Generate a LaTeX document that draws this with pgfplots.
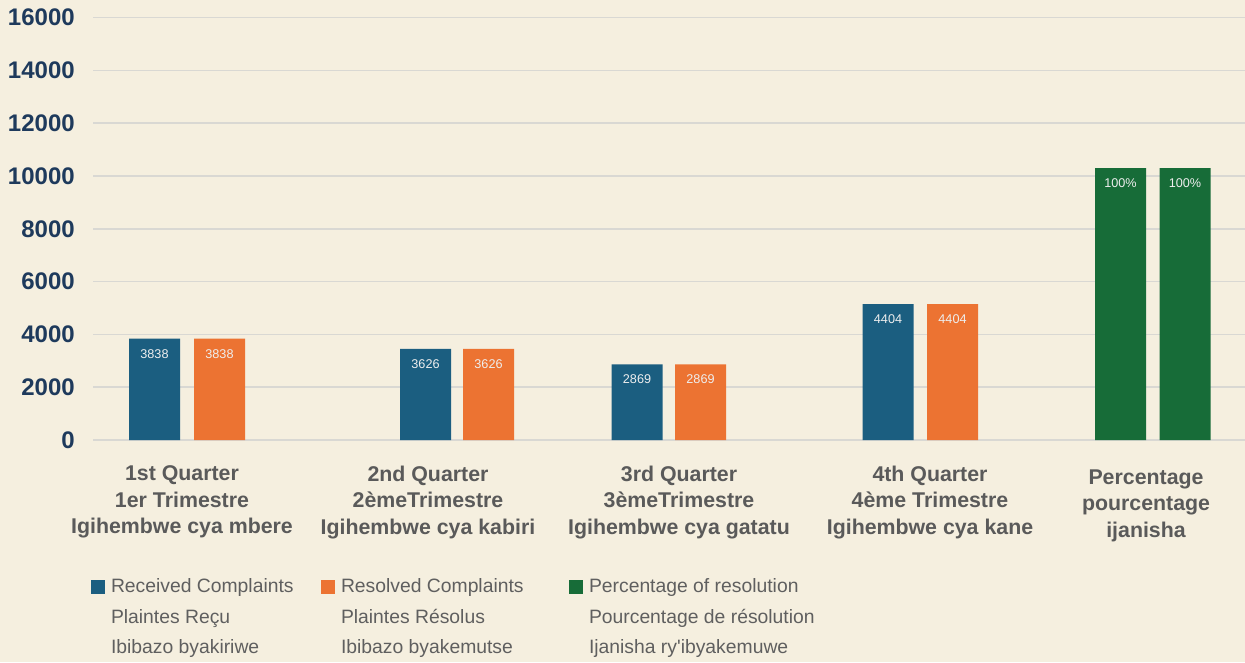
\documentclass[border=0pt]{standalone}
\usepackage{pgfplots}
\pgfplotsset{compat=1.18}
\usepackage{fontspec}
\setmainfont{Liberation Sans}
\definecolor{bg}{HTML}{F5EFDF}
\definecolor{cblue}{HTML}{1B5E80}
\definecolor{corange}{HTML}{EC7332}
\definecolor{cgreen}{HTML}{176C38}
\definecolor{gridc}{HTML}{D9D8D3}
\definecolor{ticknavy}{HTML}{1E3A5C}
\definecolor{labgray}{HTML}{5A5A5A}
\definecolor{leggray}{HTML}{5F5F5F}
\definecolor{barlab}{HTML}{EEEEEE}
\pgfplotsset{
  mybar/.style={ybar, bar width=51, bar shift=0pt, draw=none,
    nodes near coords, point meta=explicit symbolic,
    every node near coord/.append style={inner sep=0pt, yshift=-15pt,
      font=\fontsize{9.5}{9.5}\selectfont, text=barlab},
    legend image code/.code={\fill[##1] (0pt,-0.75pt) rectangle (10.5pt,9.75pt);}},
}
\begin{document}
\begin{tikzpicture}
\fill[bg] (0,0) rectangle (933.75pt,496.5pt);
\begin{axis}[
  at={(69.75pt,166.5pt)}, anchor=south west,
  scale only axis, width=864pt, height=316.8pt,
  xmin=93, xmax=1245, ymin=0, ymax=16000,
  axis line style={draw=none},
  major tick length=0pt,
  ytick={0,2000,...,16000},
  scaled y ticks=false,
  ymajorgrids, grid style={gridc, line width=1.3pt},
  /pgf/number format/.cd, fixed, 1000 sep={}, assume math mode=true, /pgfplots/.cd,
  yticklabel style={anchor=east, inner sep=0pt, xshift=-13.5pt,
    font=\bfseries\fontsize{18}{18}\selectfont, text=ticknavy},
  xtick={182,428,679,930,1146},
  xticklabels={{1st Quarter\\1er Trimestre\\Igihembwe cya mbere},
               {2nd Quarter\\2èmeTrimestre\\Igihembwe cya kabiri},
               {3rd Quarter\\3èmeTrimestre\\Igihembwe cya gatatu},
               {4th Quarter\\4ème Trimestre\\Igihembwe cya kane},
               {\rule{0pt}{14pt}Percentage\\pourcentage\\ijanisha}},
  xticklabel style={anchor=north, inner sep=0pt, yshift=-19pt, align=center,
    font=\bfseries\fontsize{16}{19.9}\selectfont, text=labgray},
  legend columns=3,
  legend style={draw=none, fill=none, inner sep=0pt, outer sep=0pt,
    at={(0,0)}, anchor=north west, xshift=-1.5pt, yshift=-104pt,
    nodes={inner sep=0pt, text=leggray, font=\fontsize{14.5}{22.9}\selectfont},
    cells={anchor=base west}, column sep=0pt,
    /tikz/every odd column/.append style={column sep=4.5pt}},
]
\addplot[mybar, fill=cblue] coordinates {
  (154.5,3838) [3838]
  (425.5,3450) [3626]
  (637,2869) [2869]
  (888,5150) [4404]
};
\addlegendentry{\parbox[t]{157.5pt}{Received Complaints\\Plaintes Reçu\\Ibibazo byakiriwe}}
\addplot[mybar, fill=corange] coordinates {
  (219.5,3838) [3838]
  (488.5,3450) [3626]
  (700.5,2869) [2869]
  (952.5,5150) [4404]
};
\addlegendentry{\parbox[t]{171pt}{Resolved Complaints\\Plaintes Résolus\\Ibibazo byakemutse}}
\addplot[mybar, fill=cgreen] coordinates {
  (1120.5,10300) [100\%]
  (1185,10300) [100\%]
};
\addlegendentry{\parbox[t]{180pt}{Percentage of resolution\\Pourcentage de résolution\\Ijanisha ry\textquotesingle ibyakemuwe}}
\end{axis}
\pgfresetboundingbox
\path[use as bounding box] (0,0) rectangle (933.75pt,496.5pt);
\end{tikzpicture}
\end{document}
